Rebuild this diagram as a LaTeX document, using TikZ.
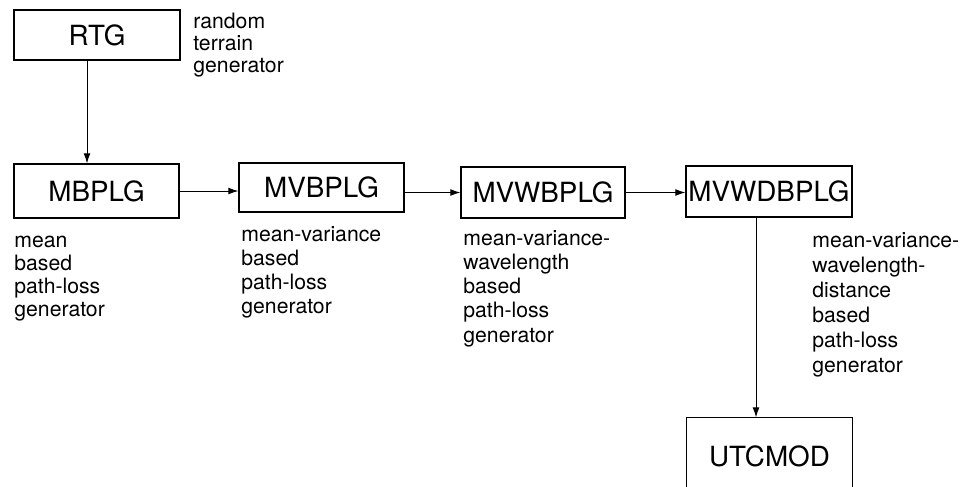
\documentclass[tikz,border=0pt]{standalone}
\usepackage{fontspec}
\setmainfont{TeX Gyre Heros}
\usetikzlibrary{arrows.meta}

\tikzset{
  blk/.style={draw, line width=0.55pt, inner sep=0pt,
    font=\fontsize{13.9}{16}\selectfont, text height=10pt, text depth=0pt},
  note/.style={inner sep=0pt, anchor=base west},
  conn/.style={line width=0.5pt, -{Latex[length=5pt,width=3.4pt]}}
}
% stacked label text, baseline on the first line
\newcommand{\notetext}[2]{{\fontsize{10.6}{#1}\selectfont
  \renewcommand{\arraystretch}{1}\begin{tabular}[t]{@{}l@{}}#2\end{tabular}}}

\begin{document}
\begin{tikzpicture}[x=0.5pt, y=-0.5pt]
\useasboundingbox (0,0) rectangle (964,487);

% generator blocks
\node[blk, minimum width=83pt, minimum height=25pt] (rtg) at (97,35) {RTG};
\node[blk, minimum width=82.5pt, minimum height=27pt] (mb) at (96.5,191) {MBPLG};
\node[blk, minimum width=82.5pt, minimum height=24.5pt] (mvb) at (321.5,187.5) {MVBPLG};
\node[blk, minimum width=82pt, minimum height=25.5pt] (mvw) at (543,192.5) {MVWBPLG};
\node[blk, minimum width=83pt, minimum height=25.5pt] (mvwd) at (769,191.5) {MVWDBPLG};
% the last block runs off the lower edge: only its top and sides are drawn
\node[blk, draw=none, minimum width=82.5pt, minimum height=38pt] (utc) at (769.5,456) {UTCMOD};
\draw[line width=0.55pt] (utc.south west) -- (utc.north west) -- (utc.north east) -- (utc.south east);

% descriptions
\node[note] (rtgtxt) at (193,28) {\notetext{11pt}{random\\terrain\\generator}};
\node[note] (mbtxt) at (14,247) {\notetext{11.65pt}{mean\\based\\path-loss\\generator}};
\node[note] (mvbtxt) at (241,241) {\notetext{12pt}{mean-variance\\based\\path-loss\\generator}};
\node[note] (mvwtxt) at (463,245) {\notetext{12.15pt}{mean-variance-\\wavelength\\based\\path-loss\\generator}};
\node[note] (mvwdtxt) at (812,247) {\notetext{12.5pt}{mean-variance-\\wavelength-\\distance\\based\\path-loss\\generator}};

% connectors
\draw[conn] ([xshift=-5pt]rtg.south) -- ([xshift=-5pt]rtg.south |- mb.north);
\draw[conn] (mb.east) -- (mb.east -| mvb.west);
\draw[conn] (mvb.east |- mvw.west) -- (mvw.west);
\draw[conn] (mvw.east) -- (mvw.east -| mvwd.west);
\draw[conn] ([xshift=-6.5pt]mvwd.south) -- ([xshift=-6.5pt]mvwd.south |- utc.north);
\end{tikzpicture}
\end{document}
